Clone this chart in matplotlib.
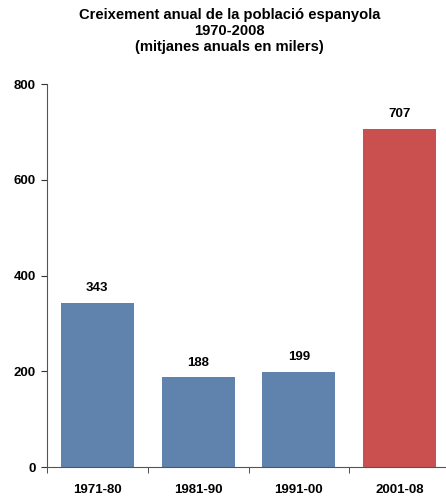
import matplotlib
matplotlib.use("Agg")
import matplotlib.pyplot as plt
import numpy as np

# data
periods = ["1971-80", "1981-90", "1991-00", "2001-08"]
growth = [343, 188, 199, 707]
bar_colors = ["#5F83AC", "#5F83AC", "#5F83AC", "#C9504F"]
y_ticks = [0, 200, 400, 600, 800]

plt.rcParams['font.family'] = ['Liberation Sans', 'DejaVu Sans']

fig = plt.figure(figsize=(4.46, 4.99), dpi=100)
# axes extends a bit past the right edge, like the original
ax = fig.add_axes([47 / 446, 32 / 499, 403 / 446, 383 / 499])

x = np.arange(len(periods))
ax.bar(x, growth, width=0.725, color=bar_colors, zorder=2)

for xi, v in zip(x, growth):
    ax.annotate(str(v), (xi, v), xytext=(0, 6), textcoords="offset points",
                ha="center", va="bottom", fontsize=9.5, fontweight="bold")

ax.set_xlim(-0.5, len(periods) - 0.5)
ax.set_ylim(0, 800)
ax.set_yticks(y_ticks)
ax.set_yticklabels([str(t) for t in y_ticks], fontsize=9.5, fontweight="bold")

# category labels centred, ticks on the boundaries
ax.set_xticks(x)
ax.set_xticklabels(periods, fontsize=9.5, fontweight="bold")
ax.tick_params(axis="x", which="major", length=0, pad=12)
ax.set_xticks(np.arange(-0.5, len(periods), 1.0), minor=True)
ax.tick_params(axis="x", which="minor", length=4, direction="out", color="#333333")
ax.tick_params(axis="y", length=4, direction="out", color="#333333", pad=4)

for side in ["top", "right"]:
    ax.spines[side].set_visible(False)
ax.spines["left"].set_color("#555555")
ax.spines["bottom"].set_color("#555555")

fig.text(0.515, 0.984, "Creixement anual de la població espanyola\n1970-2008\n(mitjanes anuals en milers)",
         ha="center", va="top", fontsize=10.6, fontweight="bold", linespacing=1.2)

fig.savefig("out.png", dpi=100)
